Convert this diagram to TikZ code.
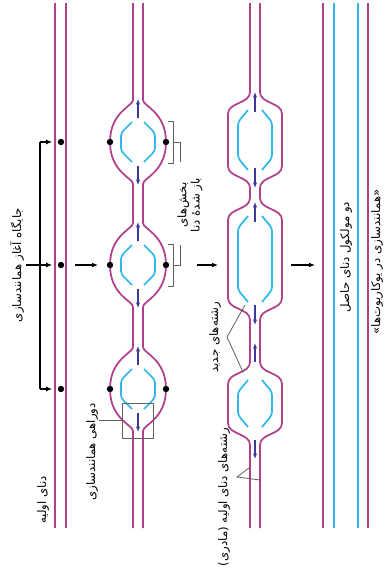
\documentclass[tikz,border=0pt]{standalone}
\usepackage{fontspec}
\newfontfamily\farsi[Script=Arabic]{DejaVu Sans}
\TeXXeTstate=1
\usetikzlibrary{arrows.meta,calc}
\definecolor{mg}{RGB}{176,64,140}
\definecolor{cy}{RGB}{48,184,234}
\definecolor{nv}{RGB}{62,56,150}
\definecolor{gr}{RGB}{96,96,96}
\tikzset{
    old/.style =    {draw=mg,
                    line width=1.3pt},
    new/.style =    {draw=cy,
                    line width=1.3pt,
                    rounded corners=2.5pt},
    fork/.style =   {draw=nv,
                    line width=0.8pt,
                    -{Latex[length=4pt,width=3.2pt]}},
    ori/.style =    {circle,
                    fill=black,
                    inner sep=0pt,
                    minimum size=4.8pt},
    note/.style =   {rotate=90,
                    font=\farsi\fontsize{8.8}{10}\selectfont,
                    align=center,
                    inner sep=1pt},
    lead/.style =   {draw=gr,
                    line width=0.6pt},
    zone/.style =   {rectangle,
                    draw=gr,
                    line width=0.6pt,
                    inner sep=0pt,
                    minimum width=23.25pt,
                    minimum height=26.25pt},
    move/.style =   {black,
                    line width=0.8pt,
                    -{Latex[length=4.5pt,width=3.6pt]}}
}

\begin{document}
\begin{tikzpicture}[x=0.75pt,y=-0.75pt]
    \useasboundingbox[fill=white] (0,0) rectangle (392,571);

    % parent molecule with its three origins
    \draw[old] (55,3) -- (55,528) (66,3) -- (66,528);
    \node[ori]  (o1) at (61,142) {};
    \node[ori]  (o2) at (61,265) {};
    \node[ori]  (o3) at (61,389) {};

    % first bubbles
    \foreach \n/\w in {133/110,143/166} {
        \draw[old] (\n,3) \foreach \c in {142,265,389} {
            -- (\n,\c-42) .. controls (\n,\c-36) and (\w,\c-30) .. (\w,\c)
            .. controls (\w,\c+30) and (\n,\c+36) .. (\n,\c+42)} -- (\n,528);
    }
    \foreach \c [count=\i] in {142,265,389} {
        \draw[new] (132,\c-20) -- (121,\c-9) -- (121,\c+9) -- (132,\c+20);
        \draw[new] (144,\c-20) -- (155,\c-9) -- (155,\c+9) -- (144,\c+20);
        \draw[fork] (138,\c-24) -- (138,\c-43);
        \draw[fork] (138,\c+24) -- (138,\c+43);
        \node[ori] (l\i) at (110,\c) {};
        \node[ori] (r\i) at (166,\c) {};
    }

    % grown bubbles
    \foreach \n/\w in {250/228,260/282} {
        \draw[old] (\n,3) \foreach \a/\b in {92/188,198/320,362/445} {
            -- (\n,\a) .. controls (\n,\a+12) and (\w,\a+10) .. (\w,\a+22)
            -- (\w,\b-22) .. controls (\w,\b-10) and (\n,\b-12) .. (\n,\b)} -- (\n,528);
    }
    \foreach \a/\b in {92/188,198/320,362/445} {
        \draw[new] (248,\a+18) -- (238,\a+30) -- (238,\b-30) -- (248,\b-18);
        \draw[new] (262,\a+18) -- (272,\a+30) -- (272,\b-30) -- (262,\b-18);
    }
    \foreach \s/\e in {112/92,168/188,222/202,305/325,362/343,440/459}
        \draw[fork] (255,\s) -- (255,\e);

    % two daughter molecules
    \draw[old] (323,3) -- (323,528) (368,3) -- (368,528);
    \draw[new] (334,3) -- (334,528) (358,3) -- (358,528);

    % steps
    \coordinate (s1) at (75,265);
    \coordinate (t1) at (98,265);
    \coordinate (s2) at (197,265);
    \coordinate (t2) at (218,265);
    \coordinate (s3) at (291,265);
    \coordinate (t3) at (315,265);
    \path[move] (s1) edge (t1)
                (s2) edge (t2)
                (s3) edge (t3);

    % labels
    \node[note] (site) at (17,265) {\beginR جایگاه آغاز همانندسازی\endR};
    \node[note] (dna)  at (43,500) {\beginR دنای اولیه\endR};
    \node[note] (l3)   at (92,452) {\beginR دوراهی همانندسازی\endR};
    \node[note] (open) at (190,205) {\beginR بخش^^^^200cهای\endR\\\beginR باز شده^^^^0654 دنا\endR};
    \node[note] (nw)   at (215,337) {\beginR رشته^^^^200cهای جدید\endR};
    \node[note] (pa)   at (224,497) {\beginR رشته^^^^200cهای دنای اولیه (مادری)\endR};
    \node[note] (two)  at (346,257) {\beginR دو مولکول دنای حاصل\endR};
    \node[note] (euk)  at (377,262) {\beginR «همانندسازی در یوکاریوت^^^^200cها»\endR};

    % origin bracket
    \coordinate (b1) at (40,142);
    \coordinate (b3) at (40,389);
    \draw[black,line width=0.8pt] (b1) -- (b3);
    \path[move] (b1) edge [shorten >=4pt] (o1)
                (b3) edge [shorten >=4pt] (o3)
                (site.south) edge [shorten >=4pt] (o2);

    % fork box
    \node[zone] (fk) at (137.5,420.5) {};
    \draw[lead] (fk.west) -- (fk.west -| l3.south);

    % opened parts
    \foreach \c/\k in {142/162,265/245} {
        \draw[lead] (168,\c-21) -- (173,\c-21) -- (173,\c+21) -- (168,\c+21);
        \draw[lead] (173,\c) -| (180,\k);
    }

    % strand pointers
    \coordinate (v1) at (227,337);
    \coordinate (n1) at (245,305);
    \coordinate (n2) at (243,372);
    \draw[lead] (n1) -- (v1) -- (n2);
    \coordinate (v2) at (237,477);
    \coordinate (p1) at (249,468);
    \coordinate (p2) at (260,480);
    \draw[lead] (p1) -- (v2) -- (p2);
\end{tikzpicture}
\end{document}
